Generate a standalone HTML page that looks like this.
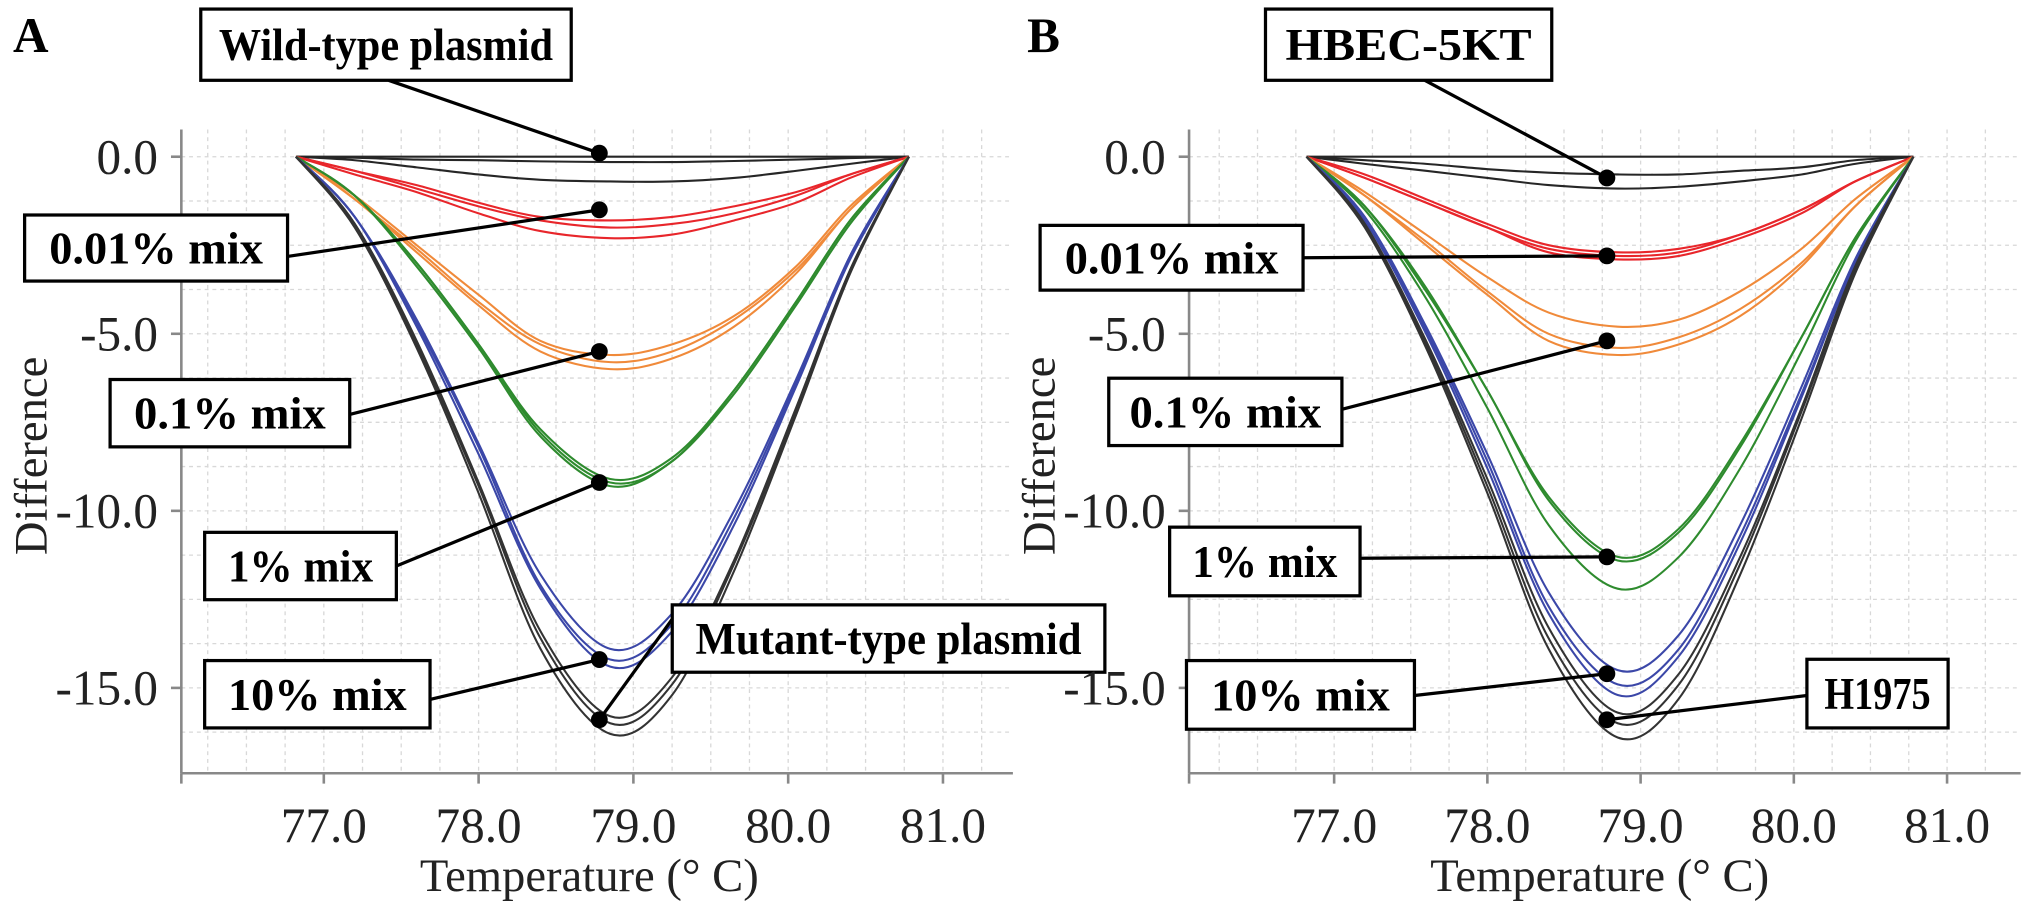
<!DOCTYPE html>
<html><head><meta charset="utf-8"><style>
html,body{margin:0;padding:0;background:#fff;}
svg{display:block;font-family:"Liberation Serif",serif;}
.lab{font-weight:bold;font-size:35px;}
.tick{font-size:38px;fill:#222;}
.ttl{font-size:36px;fill:#222;}
</style></head><body>
<svg id="chart" width="2031" height="902" viewBox="0 0 1568 696.4" preserveAspectRatio="none"></svg>
<script>
// ---- data ----
const temps = [76.82,77.2,77.6,78.0,78.4,78.85,79.25,79.65,80.05,80.4,80.78];
const xTicks = [77.0,78.0,79.0,80.0,81.0];
const xTickLabels = ["77.0","78.0","79.0","80.0","81.0"];
const yTicks = [0,-5,-10,-15];
const yTickLabels = ["0.0","-5.0","-10.0","-15.0"];
const colors = {black:"#262626",red:"#e8262b",orange:"#f08a3a",green:"#2e8b2e",blue:"#3b47a8",mut:"#333"};

const A_wt = [[0,0,0,0,0,0,0,0,0,0,0],[0,-0.03,-0.08,-0.1,-0.13,-0.15,-0.15,-0.12,-0.08,-0.04,0],[0,-0.1,-0.3,-0.5,-0.65,-0.7,-0.7,-0.6,-0.4,-0.2,0]];
const A_red = [[0,-0.5,-1.0,-1.6,-2.1,-2.3,-2.2,-1.8,-1.3,-0.6,0],[0,-0.4,-0.9,-1.4,-1.8,-2.0,-1.9,-1.6,-1.1,-0.5,0],[0,-0.4,-0.8,-1.3,-1.7,-1.8,-1.7,-1.4,-1.0,-0.5,0]];
const A_orange = [[0,-1.2,-2.7,-4.2,-5.5,-6.0,-5.7,-4.8,-3.3,-1.5,0],[0,-1.2,-2.6,-4.1,-5.3,-5.8,-5.5,-4.6,-3.2,-1.5,0],[0,-1.1,-2.5,-3.9,-5.2,-5.6,-5.3,-4.5,-3.1,-1.4,0]];
const A_green = [[0,-1.1,-3.1,-5.4,-7.9,-9.3,-8.6,-6.7,-4.2,-1.9,0],[0,-1.1,-3.0,-5.3,-7.8,-9.2,-8.6,-6.6,-4.1,-1.8,0],[0,-1.1,-3.0,-5.3,-7.7,-9.1,-8.5,-6.6,-4.1,-1.8,0]];
const A_blue = [[0,-1.7,-4.8,-8.4,-12.2,-14.4,-13.4,-10.4,-6.5,-2.9,0],[0,-1.7,-4.7,-8.2,-12.1,-14.2,-13.2,-10.2,-6.4,-2.8,0],[0,-1.7,-4.6,-8.1,-11.8,-13.9,-12.9,-10.0,-6.3,-2.8,0]];
const A_mut = [[0,-2.0,-5.4,-9.5,-13.9,-16.3,-15.2,-11.7,-7.3,-3.3,0],[0,-1.9,-5.3,-9.3,-13.6,-16.0,-14.9,-11.5,-7.2,-3.2,0],[0,-1.9,-5.2,-9.2,-13.4,-15.8,-14.7,-11.4,-7.1,-3.2,0]];

const B_hbec = [[0,0,0,0,0,0,0,0,0,0,0],[0,-0.1,-0.2,-0.35,-0.45,-0.5,-0.5,-0.4,-0.3,-0.1,0],[0,-0.2,-0.4,-0.6,-0.8,-0.9,-0.85,-0.7,-0.5,-0.2,0]];
const B_red = [[0,-0.6,-1.3,-2.0,-2.7,-2.9,-2.8,-2.3,-1.6,-0.7,0],[0,-0.6,-1.3,-2.0,-2.6,-2.8,-2.7,-2.2,-1.5,-0.7,0],[0,-0.5,-1.2,-1.9,-2.5,-2.7,-2.6,-2.2,-1.5,-0.7,0]];
const B_orange = [[0,-1.1,-2.5,-3.9,-5.2,-5.6,-5.3,-4.5,-3.1,-1.4,0],[0,-1.1,-2.4,-3.8,-5.0,-5.4,-5.1,-4.3,-3.0,-1.4,0],[0,-1.0,-2.2,-3.4,-4.4,-4.8,-4.6,-3.8,-2.6,-1.2,0]];
const B_green = [[0,-1.5,-4.0,-7.1,-10.4,-12.2,-11.3,-8.8,-5.5,-2.4,0],[0,-1.4,-3.8,-6.6,-9.7,-11.4,-10.6,-8.2,-5.1,-2.3,0],[0,-1.4,-3.7,-6.6,-9.6,-11.3,-10.5,-8.1,-5.1,-2.3,0]];
const B_blue = [[0,-1.8,-5.0,-8.8,-12.9,-15.2,-14.1,-10.9,-6.8,-3.0,0],[0,-1.8,-4.9,-8.6,-12.7,-14.9,-13.9,-10.7,-6.7,-3.0,0],[0,-1.7,-4.8,-8.4,-12.3,-14.5,-13.5,-10.4,-6.5,-2.9,0]];
const B_h1975 = [[0,-2.0,-5.4,-9.5,-13.9,-16.4,-15.3,-11.8,-7.4,-3.3,0],[0,-1.9,-5.3,-9.3,-13.6,-16.0,-14.9,-11.5,-7.2,-3.2,0],[0,-1.9,-5.2,-9.1,-13.3,-15.7,-14.6,-11.3,-7.1,-3.1,0]];

const A_labels = ["Wild-type plasmid","0.01% mix","0.1% mix","1% mix","10% mix","Mutant-type plasmid"];
const B_labels = ["HBEC-5KT","0.01% mix","0.1% mix","1% mix","10% mix","H1975"];
const A_dotVals = [0.1,-1.5,-5.5,-9.2,-14.2,-15.9];
const B_dotVals = [-0.6,-2.8,-5.2,-11.3,-14.6,-15.9];
const dotTemp = 78.78;

// ---- drawing ----
const NS="http://www.w3.org/2000/svg";
const svg=document.getElementById('chart');
function el(tag,attrs,parent){const e=document.createElementNS(NS,tag);for(const k in attrs)e.setAttribute(k,attrs[k]);(parent||svg).appendChild(e);return e;}
function smooth(pts){let d=`M${pts[0][0]},${pts[0][1]}`;for(let i=0;i<pts.length-1;i++){const p0=pts[Math.max(0,i-1)],p1=pts[i],p2=pts[i+1],p3=pts[Math.min(pts.length-1,i+2)];const c1=[p1[0]+(p2[0]-p0[0])/6,p1[1]+(p2[1]-p0[1])/6],c2=[p2[0]-(p3[0]-p1[0])/6,p2[1]-(p3[1]-p1[1])/6];d+=` C${c1[0].toFixed(1)},${c1[1].toFixed(1)} ${c2[0].toFixed(1)},${c2[1].toFixed(1)} ${p2[0].toFixed(1)},${p2[1].toFixed(1)}`;}return d;}

function panel(cfg){
  const g=el('g',{});
  
  
  const X=t=>cfg.x77+(t-77)*cfg.xs;
  const Y=v=>121+(-v)*27.34;
  const axL=cfg.axL, axR=cfg.axR, axB=597, axT=100;
  const grid=el('g',{stroke:'#d8d8d8','stroke-width':1,'stroke-dasharray':'3,3'},g);
  
  
  for(let t=76.25;t<=81.6;t+=0.25){const x=X(t);if(x>axL+2&&x<axR)el('line',{x1:x,y1:axT,x2:x,y2:axB},grid);}
  for(let v=1.25;v>=-17.6;v-=1.25){const y=Y(v);if(y<axB-2&&y>axT)el('line',{x1:axL,y1:y,x2:axR,y2:y},grid);}
  const ax=el('g',{stroke:'#888','stroke-width':2},g);
  
  
  el('line',{x1:axL,y1:axT,x2:axL,y2:axB},ax);
  el('line',{x1:axL,y1:axB,x2:axR,y2:axB},ax);
  el('line',{x1:axL,y1:axB,x2:axL,y2:axB+8},ax);
  xTicks.forEach((t,i)=>{el('line',{x1:X(t),y1:axB,x2:X(t),y2:axB+8},ax);
    const tx=el('text',{x:X(t),y:650,'text-anchor':'middle',class:'tick'},g);tx.textContent=xTickLabels[i];
    
    });
  yTicks.forEach((v,i)=>{el('line',{x1:axL-8,y1:Y(v),x2:axL,y2:Y(v)},ax);
    const tx=el('text',{x:axL-18,y:Y(v)+13,'text-anchor':'end',class:'tick'},g);tx.textContent=yTickLabels[i];
    
    });
  const xt=el('text',{x:cfg.xTitleX,y:688,'text-anchor':'middle',class:'ttl'},g);xt.textContent='Temperature (°  C)';
  
  
  const yt=el('text',{x:0,y:0,'text-anchor':'middle',class:'ttl',transform:`translate(${cfg.yTitleX},352) rotate(-90)`},g);yt.textContent='Difference';
  
  
  const pl=el('text',{x:cfg.letterX,y:40,style:'font-weight:bold;font-size:38px'},g);pl.textContent=cfg.letter;
  
  
  cfg.series.forEach(s=>{s.data.forEach(vals=>{
    const p=el('path',{d:smooth(temps.map((t,i)=>[X(t),Y(vals[i])])),fill:'none',stroke:s.color,'stroke-width':1.6},g);
    
    
  });});
  cfg.labels.forEach((txt,i)=>{
    const b=cfg.boxes[i];const dx=X(dotTemp),dy=Y(cfg.dots[i]);
    const ln=el('line',{x1:b.ax,y1:b.ay,x2:dx,y2:dy,stroke:'#000','stroke-width':2.5},g);
    
    
    const c=el('circle',{cx:dx,cy:dy,r:6.5,fill:'#000'},g);
    
    
    const r=el('rect',{x:b.x,y:b.y,width:b.w,height:b.h,fill:'#fff',stroke:'#000','stroke-width':2.5},g);
    
    
    const t=el('text',{x:b.x+b.w/2,y:b.y+b.h/2+12,'text-anchor':'middle',class:'lab',textLength:b.tl,lengthAdjust:'spacingAndGlyphs'},g);t.textContent=txt;
    
    
  });
}

panel({name:'panel-a',letter:'A',letterX:10,x77:250,xs:119.5,axL:140,axR:782,xTitleX:455,yTitleX:36,labels:A_labels,dots:A_dotVals,
  series:[{name:'wild-type-curve',color:colors.black,data:A_wt},{name:'mix-0.01-curve',color:colors.red,data:A_red},{name:'mix-0.1-curve',color:colors.orange,data:A_orange},{name:'mix-1-curve',color:colors.green,data:A_green},{name:'mix-10-curve',color:colors.blue,data:A_blue},{name:'mutant-curve',color:colors.mut,data:A_mut}],
  boxes:[{x:155,y:7,w:286,h:55,ax:300,ay:62,tl:258},{x:19,y:166,w:203,h:51,ax:222,ay:198,tl:165},{x:85,y:293,w:185,h:52,ax:270,ay:320,tl:148},{x:158,y:411,w:148,h:52,ax:306,ay:437,tl:112},{x:158,y:510,w:174,h:52,ax:332,ay:540,tl:138},{x:519,y:467,w:334,h:52,ax:519,ay:478,tl:298}]});

panel({name:'panel-b',letter:'B',letterX:793,x77:1030,xs:118.3,axL:918,axR:1560,xTitleX:1235,yTitleX:814,labels:B_labels,dots:B_dotVals,
  series:[{name:'hbec-curve',color:colors.black,data:B_hbec},{name:'mix-0.01-curve',color:colors.red,data:B_red},{name:'mix-0.1-curve',color:colors.orange,data:B_orange},{name:'mix-1-curve',color:colors.green,data:B_green},{name:'mix-10-curve',color:colors.blue,data:B_blue},{name:'h1975-curve',color:colors.mut,data:B_h1975}],
  boxes:[{x:977,y:7,w:221,h:55,ax:1100,ay:62,tl:190},{x:803,y:174,w:203,h:50,ax:1006,ay:199,tl:165},{x:856,y:292,w:180,h:52,ax:1036,ay:316,tl:148},{x:903,y:407,w:147,h:53,ax:1050,ay:431,tl:112},{x:916,y:510,w:176,h:53,ax:1092,ay:537,tl:138},{x:1395,y:509,w:109,h:53,ax:1395,ay:537,tl:82}]});
</script>
</body></html>
